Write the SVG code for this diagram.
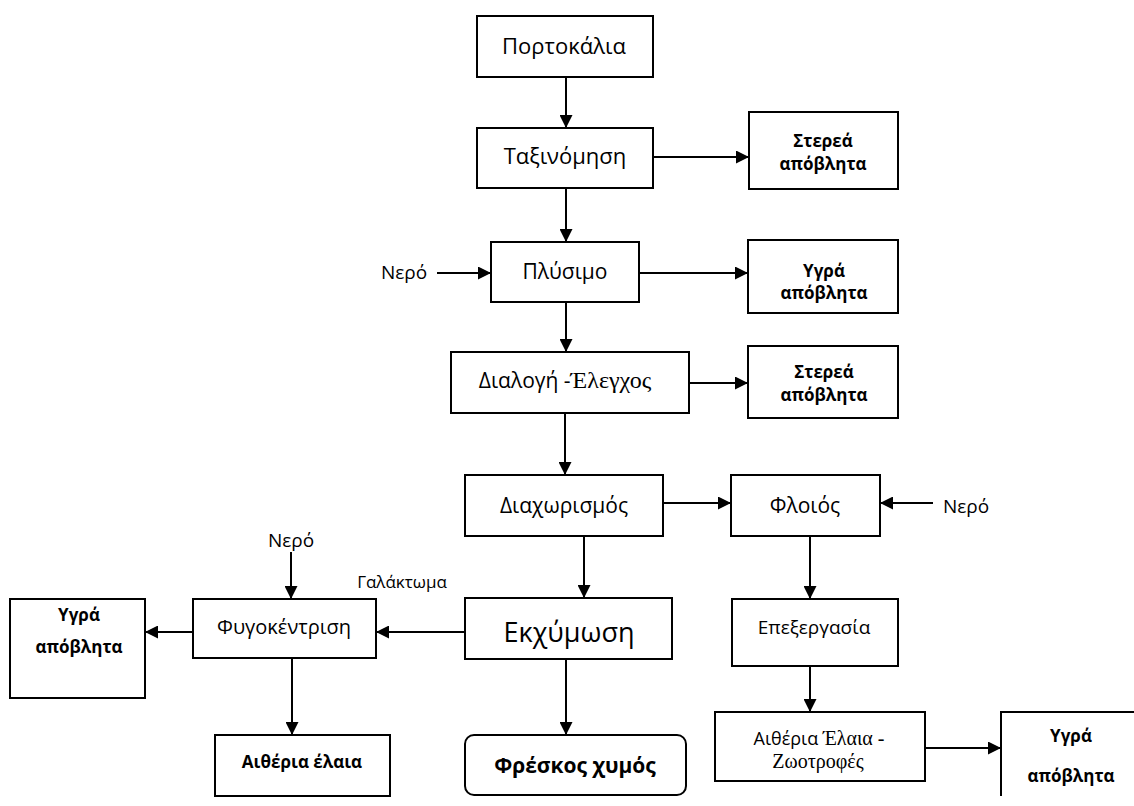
<svg xmlns="http://www.w3.org/2000/svg" width="1134" height="806" viewBox="0 0 1134 806">
<defs>
<marker id="ah" markerUnits="userSpaceOnUse" markerWidth="13" markerHeight="13" refX="13" refY="6.5" orient="auto">
<path d="M0,0 L13,6.5 L0,13 z" fill="#000"/>
</marker>
<style>
.box{fill:#fff;stroke:#000;stroke-width:2}
.t{font-family:"Open Sans","Noto Sans","DejaVu Sans",sans-serif;fill:#000;text-anchor:middle}
.s{font-family:"Liberation Serif","DejaVu Serif",serif}
.b{font-weight:bold;font-size:17px}
.c line{stroke:#000;stroke-width:2;marker-end:url(#ah)}
</style>
</defs>
<rect width="1134" height="806" fill="#fff"/>
<g id="portokalia"><rect class="box" x="477" y="16" width="176" height="61"/><text class="t" x="564" y="54" font-size="22">Πορτοκάλια</text></g>
<g id="taxinomisi"><rect class="box" x="477" y="128" width="176" height="60"/><text class="t" x="565" y="164" font-size="22">Ταξινόμηση</text></g>
<g id="sterea1"><rect class="box" x="749" y="112" width="149" height="77"/><text class="t b" x="823" y="147">Στερεά</text><text class="t b" x="823" y="170">απόβλητα</text></g>
<g id="plysimo"><rect class="box" x="491" y="242" width="148" height="60"/><text class="t" x="565" y="279" font-size="21">Πλύσιμο</text></g>
<g id="nero1"><text class="t" x="404" y="279" font-size="19">Νερό</text></g>
<g id="ygra1"><rect class="box" x="748" y="240" width="150" height="73"/><text class="t b" x="824" y="277">Υγρά</text><text class="t b" x="824" y="299">απόβλητα</text></g>
<g id="dialogi"><rect class="box" x="451" y="352" width="238" height="61"/><text class="t" x="565" y="388" font-size="21">Διαλογή -<tspan class="s" font-size="24">Έλεγχος</tspan></text></g>
<g id="sterea2"><rect class="box" x="748" y="346" width="150" height="72"/><text class="t b" x="824" y="378">Στερεά</text><text class="t b" x="824" y="401">απόβλητα</text></g>
<g id="diaxorismos"><rect class="box" x="465" y="475" width="198" height="61"/><text class="t" x="564" y="513" font-size="21">Διαχωρισμός</text></g>
<g id="floios"><rect class="box" x="731" y="475" width="149" height="61"/><text class="t" x="805" y="513" font-size="21">Φλοιός</text></g>
<g id="nero2"><text class="t" x="966" y="513" font-size="19">Νερό</text></g>
<g id="nero3"><text class="t" x="291" y="547" font-size="19">Νερό</text></g>
<g id="galaktoma"><text class="t" x="402" y="588" font-size="17">Γαλάκτωμα</text></g>
<g id="fygokentrisi"><rect class="box" x="193" y="599" width="183" height="59"/><text class="t" x="284" y="634" font-size="20">Φυγοκέντριση</text></g>
<g id="ygra2"><rect class="box" x="10" y="599" width="135" height="99"/><text class="t b" x="79" y="621">Υγρά</text><text class="t b" x="79" y="653">απόβλητα</text></g>
<g id="aitheria1"><rect class="box" x="215" y="735" width="175" height="61"/><text class="t b" x="302" y="768">Αιθέρια έλαια</text></g>
<g id="ekxymosi"><rect class="box" x="465" y="598" width="207" height="61"/><text class="t" x="569" y="642" font-size="27">Εκχύμωση</text></g>
<g id="freskos"><rect class="box" x="465" y="735" width="221" height="60" rx="9"/><text class="t" x="575" y="773" font-size="21" font-weight="bold">Φρέσκος χυμός</text></g>
<g id="epexergasia"><rect class="box" x="732" y="599" width="166" height="67"/><text class="t" x="814" y="634" font-size="19">Επεξεργασία</text></g>
<g id="aitheria2"><rect class="box" x="715" y="712" width="210" height="69"/><text class="t" x="819" y="745" font-size="18">Αιθέρια <tspan class="s" font-size="20">Έλαια -</tspan></text><text class="t s" x="818" y="768" font-size="20">Ζωοτροφές</text></g>
<g id="ygra3"><path d="M1001,796 V712 H1140" fill="none" stroke="#000" stroke-width="2"/><text class="t b" x="1071" y="742">Υγρά</text><text class="t b" x="1071" y="782">απόβλητα</text></g>
<g id="connectors" class="c">
<line x1="566" y1="77" x2="566" y2="128"/>
<line x1="653" y1="157" x2="749" y2="157"/>
<line x1="566" y1="188" x2="566" y2="242"/>
<line x1="437" y1="273" x2="491" y2="273"/>
<line x1="639" y1="273" x2="748" y2="273"/>
<line x1="566" y1="302" x2="566" y2="352"/>
<line x1="689" y1="383" x2="748" y2="383"/>
<line x1="565" y1="413" x2="565" y2="475"/>
<line x1="663" y1="503" x2="731" y2="503"/>
<line x1="933" y1="503" x2="880" y2="503"/>
<line x1="584" y1="536" x2="584" y2="598"/>
<line x1="810" y1="536" x2="810" y2="599"/>
<line x1="291" y1="552" x2="291" y2="599"/>
<line x1="465" y1="632" x2="376" y2="632"/>
<line x1="193" y1="632" x2="145" y2="632"/>
<line x1="292" y1="658" x2="292" y2="735"/>
<line x1="566" y1="659" x2="566" y2="735"/>
<line x1="810" y1="666" x2="810" y2="712"/>
<line x1="925" y1="748" x2="1001" y2="748"/>
</g>
</svg>
